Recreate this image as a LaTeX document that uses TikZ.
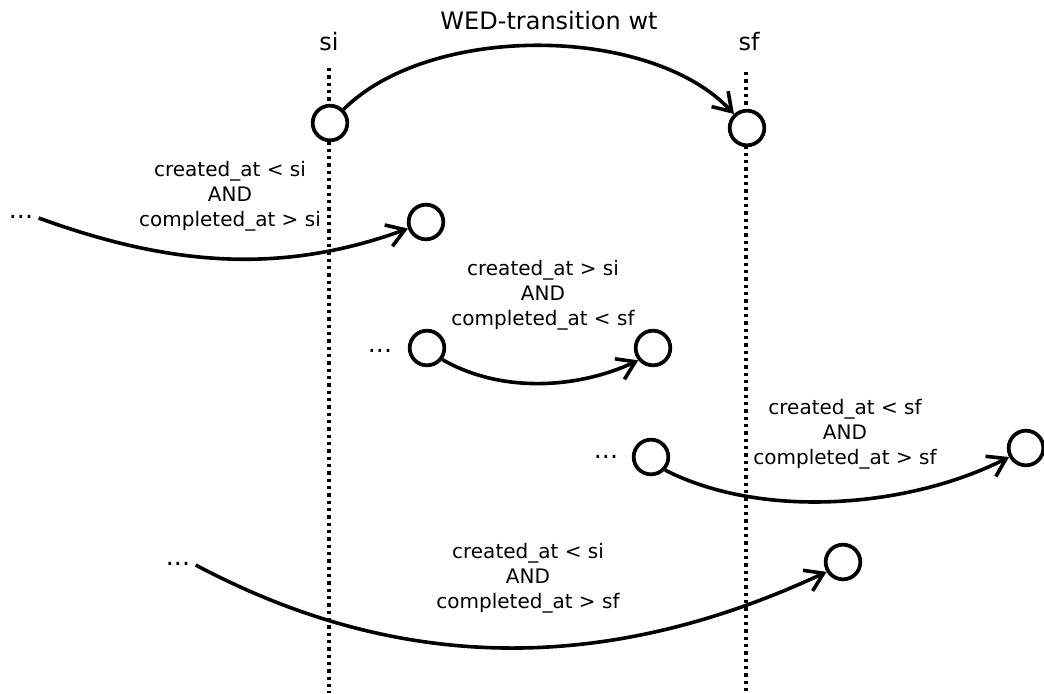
\documentclass[tikz,border=0pt]{standalone}
\usepackage{fontspec}
\setmainfont{DejaVu Sans}
\usetikzlibrary{arrows.meta}
\begin{document}
\begin{tikzpicture}[x=0.75pt,y=-0.75pt,
  stnode/.style={circle,draw,line width=2.8pt,fill=white,minimum size=26pt,inner sep=0pt},
  cond/.style={align=center,font=\fontsize{15pt}{18.75pt}\selectfont,inner sep=0pt},
  ellip/.style={font=\fontsize{19pt}{22pt}\selectfont,inner ysep=0pt,inner xsep=4pt,anchor=base},
  headtxt/.style={font=\fontsize{18pt}{22pt}\selectfont,anchor=base,inner sep=0pt},
  guide/.style={line width=2.5pt,dash pattern=on 2.5pt off 3pt},
  flow/.style={line width=2.7pt,-{Straight Barb[length=13pt,width=17pt]}}
]
\useasboundingbox (0,0) rectangle (1044,693);

% vertical time lines for the two states
\coordinate (siTop) at (329,68);
\coordinate (siBot) at (329,693);
\coordinate (sfTop) at (746,72);
\coordinate (sfBot) at (746,693);
\draw[guide] (siTop) -- (siBot);
\draw[guide] (sfTop) -- (sfBot);

% headings
\node[headtxt] (hd) at (549,29) {WED-transition wt};
\node[headtxt] (lsi) at (329,50) {si};
\node[headtxt] (lsf) at (749,50) {sf};

% the transition itself
\node[stnode] (si) at (330,123) {};
\node[stnode] (sf) at (747,128) {};
\draw[flow] (si) to[out=45,in=133,looseness=0.8] (sf);

% case 1: started before si, finished after si
\node[ellip] (d1) at (21,218) {...};
\node[stnode] (c1) at (426,222) {};
\node[cond] (l1) at (230,196) {created\_at < si\\AND\\completed\_at > si};
\draw[flow] (d1.base east) to[out=-20,in=200,looseness=0.95] (c1);

% case 2: entirely between si and sf
\node[ellip] (d2) at (380,352) {...};
\node[stnode] (c2a) at (427,348) {};
\node[stnode] (c2b) at (653,348) {};
\node[cond] (l2) at (543,295.5) {created\_at > si\\AND\\completed\_at < sf};
\draw[flow] (c2a.-37) to[out=-30,in=205,looseness=0.88] (c2b.220);

% case 3: started before sf, finished after sf
\node[ellip] (d3) at (606,458) {...};
\node[stnode] (c3a) at (651,457) {};
\node[stnode] (c3b) at (1026,448) {};
\node[cond] (l3) at (845,434) {created\_at < sf\\AND\\completed\_at > sf};
\draw[flow] (c3a.-43) to[out=-27,in=207,looseness=0.82] (c3b.208);

% case 4: spanning the whole transition
\node[ellip] (d4) at (178,565) {...};
\node[stnode] (c4) at (843,562) {};
\node[cond] (l4) at (528,578) {created\_at < si\\AND\\completed\_at > sf};
\draw[flow] (d4.base east) to[out=-28,in=205,looseness=0.96] (c4.211);
\end{tikzpicture}
\end{document}
